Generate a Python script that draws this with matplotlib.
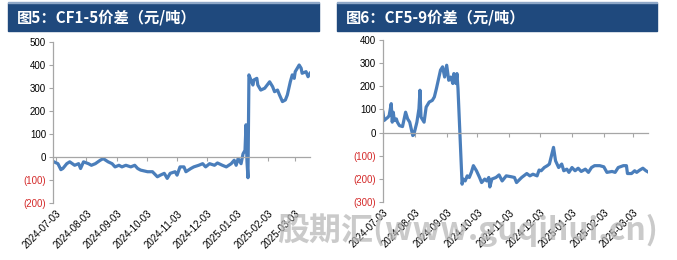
import matplotlib
matplotlib.use("Agg")
import matplotlib.pyplot as plt
import matplotlib.dates as mdates
from matplotlib.patches import Rectangle
from matplotlib.ticker import FuncFormatter
import pandas as pd

# CF1-5 价差
cf15_dates = ["2024-07-01", "2024-07-05", "2024-07-08", "2024-07-10", "2024-07-14", "2024-07-17",
              "2024-07-22", "2024-07-26", "2024-07-28", "2024-07-31", "2024-08-05", "2024-08-08",
              "2024-08-12", "2024-08-17", "2024-08-20", "2024-08-25", "2024-08-29", "2024-09-01",
              "2024-09-05", "2024-09-08", "2024-09-12", "2024-09-17", "2024-09-21", "2024-09-24",
              "2024-09-27", "2024-10-04", "2024-10-09", "2024-10-14", "2024-10-17", "2024-10-21",
              "2024-10-24", "2024-10-27", "2024-11-01", "2024-11-03", "2024-11-06", "2024-11-10",
              "2024-11-12", "2024-11-17", "2024-11-20", "2024-11-25", "2024-11-29", "2024-12-02",
              "2024-12-06", "2024-12-11", "2024-12-14", "2024-12-19", "2024-12-23", "2024-12-28",
              "2024-12-31", "2025-01-02", "2025-01-04", "2025-01-07", "2025-01-09", "2025-01-11",
              "2025-01-12", "2025-01-13", "2025-01-14", "2025-01-15", "2025-01-17", "2025-01-19",
              "2025-01-20", "2025-01-23", "2025-01-24", "2025-01-27", "2025-01-31", "2025-02-05",
              "2025-02-08", "2025-02-10", "2025-02-13", "2025-02-15", "2025-02-18", "2025-02-21",
              "2025-02-23", "2025-02-26", "2025-02-28", "2025-03-02", "2025-03-03", "2025-03-07",
              "2025-03-09", "2025-03-10", "2025-03-14", "2025-03-16", "2025-03-18"]
cf15_vals = [-21, -29, -55, -50, -29, -21,
             -36, -29, -50, -21, -29, -36,
             -29, -14, -7, -21, -29, -43,
             -36, -43, -36, -43, -36, -50,
             -57, -64, -64, -86, -79, -71,
             -93, -71, -64, -79, -43, -43,
             -64, -50, -43, -36, -29, -43,
             -29, -36, -26, -36, -43, -29,
             -14, -36, -7, -29, 14, 29,
             140, -20, -90, 357, 335, 313,
             335, 342, 313, 291, 299, 327,
             306, 284, 291, 270, 241, 248,
             270, 327, 357, 342, 371, 400,
             386, 364, 371, 349, 364]

# CF5-9 价差
cf59_dates = ["2024-07-03", "2024-07-04", "2024-07-08", "2024-07-09", "2024-07-11", "2024-07-12",
              "2024-07-13", "2024-07-14", "2024-07-16", "2024-07-17", "2024-07-19", "2024-07-22",
              "2024-07-25", "2024-07-27", "2024-07-29", "2024-08-01", "2024-08-02", "2024-08-05",
              "2024-08-07", "2024-08-08", "2024-08-09", "2024-08-12", "2024-08-14", "2024-08-17",
              "2024-08-20", "2024-08-22", "2024-08-24", "2024-08-28", "2024-08-30", "2024-09-01",
              "2024-09-03", "2024-09-05", "2024-09-07", "2024-09-09", "2024-09-10", "2024-09-12",
              "2024-09-13", "2024-09-14", "2024-09-18", "2024-09-19", "2024-09-21", "2024-09-23",
              "2024-09-25", "2024-09-27", "2024-09-29", "2024-10-02", "2024-10-05", "2024-10-07",
              "2024-10-10", "2024-10-12", "2024-10-14", "2024-10-15", "2024-10-17", "2024-10-21",
              "2024-10-24", "2024-10-27", "2024-10-31", "2024-11-05", "2024-11-08", "2024-11-10",
              "2024-11-15", "2024-11-20", "2024-11-23", "2024-11-26", "2024-11-30", "2024-12-02",
              "2024-12-04", "2024-12-07", "2024-12-10", "2024-12-12", "2024-12-16", "2024-12-18",
              "2024-12-21", "2024-12-24", "2024-12-26", "2024-12-29", "2024-12-31", "2025-01-03",
              "2025-01-06", "2025-01-09", "2025-01-12", "2025-01-16", "2025-01-19", "2025-01-22",
              "2025-01-25", "2025-01-30", "2025-02-03", "2025-02-06", "2025-02-11", "2025-02-14",
              "2025-02-17", "2025-02-22", "2025-02-25", "2025-02-26", "2025-03-02", "2025-03-05",
              "2025-03-07", "2025-03-10", "2025-03-13", "2025-03-16", "2025-03-18"]
cf59_vals = [88, 52, 67, 74, 125, 45,
             88, 52, 59, 45, 30, 26,
             88, 59, 45, -13, -9, 45,
             103, 183, 67, 45, 110, 132,
             139, 154, 190, 270, 284, 240,
             291, 226, 240, 212, 255, 212,
             255, 190, -223, -201, -209, -187,
             -194, -172, -143, -165, -194, -216,
             -201, -209, -194, -235, -201, -194,
             -183, -209, -187, -191, -194, -216,
             -194, -177, -187, -180, -187, -162,
             -165, -151, -143, -136, -64, -122,
             -151, -136, -165, -158, -172, -151,
             -165, -154, -168, -158, -172, -151,
             -143, -143, -148, -172, -168, -172,
             -151, -143, -143, -177, -177, -165,
             -172, -162, -154, -165, -170]

tick_dates = ["2024-07-03", "2024-08-03", "2024-09-03", "2024-10-03", "2024-11-03",
              "2024-12-03", "2025-01-03", "2025-02-03", "2025-03-03"]

titles = ["图5：CF1-5价差（元/吨）", "图6：CF5-9价差（元/吨）"]

LINE = "#4a7ebb"
NAVY = "#1f497d"
RED = "#d42a2a"
AXC = "#a6a6a6"
CJK = ["Noto Sans CJK SC", "DejaVu Sans"]

W, H = 677, 260
fig = plt.figure(figsize=(W / 100, H / 100), dpi=100)


def paren_fmt(v, pos):
    if v < 0:
        return "(%d)" % abs(v)
    return "%d" % v


def make_panel(rect, dates, vals, ylim, step, xstart):
    ax = fig.add_axes(rect)
    x = pd.to_datetime(dates)
    ax.plot(x, vals, color=LINE, lw=2.3, solid_joinstyle="round")
    ax.set_xlim(pd.Timestamp(xstart), pd.Timestamp("2025-03-18"))
    ax.set_ylim(*ylim)
    yt = list(range(ylim[0], ylim[1] + 1, step))
    ax.set_yticks(yt)
    ax.yaxis.set_major_formatter(FuncFormatter(paren_fmt))
    for lab, v in zip(ax.get_yticklabels(), yt):
        lab.set_color(RED if v < 0 else "black")
    ax.tick_params(axis="y", length=3, width=0.8, color=AXC, labelsize=7, pad=2)
    for s in ["top", "right"]:
        ax.spines[s].set_visible(False)
    ax.spines["left"].set_color(AXC)
    ax.spines["left"].set_linewidth(0.9)
    # zero line carries the tick marks
    ax.spines["bottom"].set_position(("data", 0))
    ax.spines["bottom"].set_color(AXC)
    ax.spines["bottom"].set_linewidth(0.9)
    xt = pd.to_datetime(tick_dates)
    ax.set_xticks(xt)
    ax.tick_params(axis="x", length=3, width=0.8, color=AXC, labelbottom=False)
    # labels sit at the bottom of the plot
    sec = ax.secondary_xaxis(0)
    sec.set_xticks(xt)
    sec.xaxis.set_major_formatter(mdates.DateFormatter("%Y-%m-%d"))
    sec.tick_params(length=0, labelsize=7, pad=4)
    sec.spines["bottom"].set_visible(False)
    for lab in sec.get_xticklabels():
        lab.set_rotation(45)
        lab.set_ha("right")
        lab.set_rotation_mode("anchor")
    for lab in ax.get_yticklabels() + sec.get_xticklabels():
        lab.set_fontfamily("Liberation Sans")
    return ax


make_panel([53 / W, 1 - 203 / H, 257 / W, 161 / H], cf15_dates, cf15_vals,
           (-200, 500), 100, "2024-06-30")
make_panel([383 / W, 1 - 202 / H, 265 / W, 162 / H], cf59_dates, cf59_vals,
           (-300, 400), 100, "2024-07-03")

# title bars
for x0, x1, t in [(8, 319, titles[0]), (337, 657, titles[1])]:
    fig.patches.append(Rectangle((x0 / W, 1 - 31 / H), (x1 - x0) / W, 28 / H,
                                 transform=fig.transFigure, color=NAVY, zorder=0))
    fig.patches.append(Rectangle((x0 / W, 1 - 3 / H), (x1 - x0) / W, 1 / H,
                                 transform=fig.transFigure, color="#8fa8c8", zorder=0))
    fig.text((x0 + 9) / W, 1 - 17.5 / H, t, color="white", fontsize=11,
             fontweight="bold", family=CJK, va="center", ha="left")

# watermark
fig.text(468 / W, 1 - 230 / H, "股期汇(www.guqihui.cn)", color="#b4b4b4", alpha=0.7,
         fontsize=23, fontweight="bold", style="italic", family=CJK,
         ha="center", va="center", zorder=10)

fig.savefig("out.png", dpi=100, facecolor="white")
